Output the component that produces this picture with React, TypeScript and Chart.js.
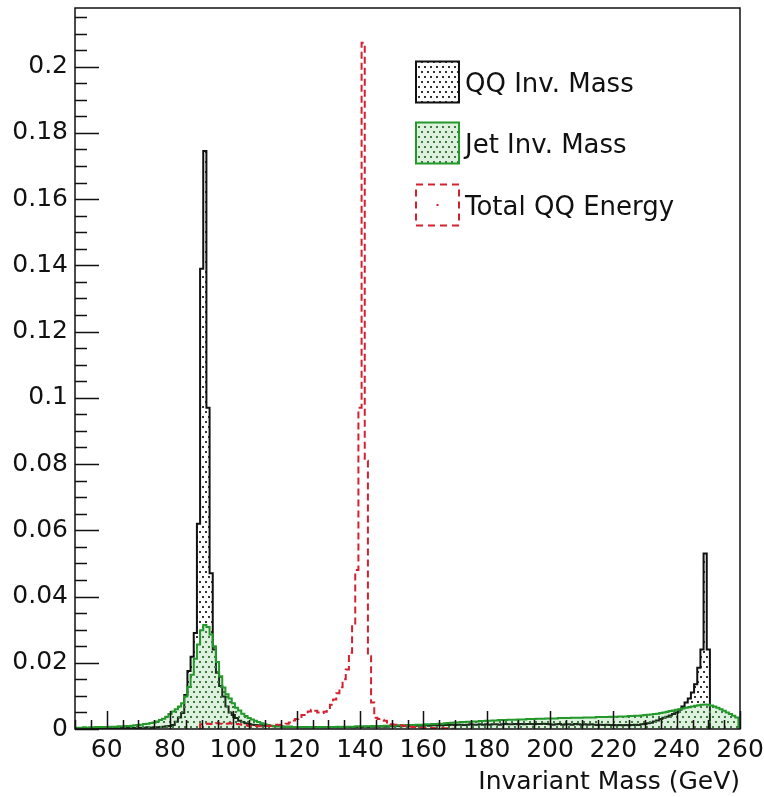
import React, { useEffect, useRef } from 'react';
import { Chart, registerables } from 'chart.js';
Chart.register(...registerables);

// Histogram bins are 1 GeV wide; *Start is the centre of the first bin.
const qqStart = 50;
const qqValues = [
  0.0002, 0.0002, 0.0002, 0.0002, 0.0002, 0.0002, 0.0002, 0.0002, 0.0002, 0.0002,
  0.0002, 0.0002, 0.0003, 0.0002, 0.0003, 0.0003, 0.0003, 0.0003, 0.0004, 0.0003,
  0.0004, 0.0004, 0.0004, 0.0005, 0.0004, 0.0005, 0.0005, 0.0006, 0.0007, 0.0008,
  0.0009, 0.0012, 0.0022, 0.0035, 0.0048, 0.0103, 0.0175, 0.0218, 0.029, 0.062,
  0.139, 0.1745, 0.097, 0.047, 0.024, 0.017, 0.013, 0.0098, 0.0068, 0.005,
  0.0042, 0.0033, 0.0025, 0.0021, 0.0017, 0.0015, 0.0013, 0.0012, 0.0011, 0.0011,
  0.001, 0.0009, 0.0009, 0.0008, 0.0008, 0.0008, 0.0007, 0.0007, 0.0007, 0.0006,
  0.0006, 0.0006, 0.0005, 0.0006, 0.0005, 0.0005, 0.0006, 0.0005, 0.0005, 0.0005,
  0.0005, 0.0005, 0.0006, 0.0005, 0.0005, 0.0006, 0.0006, 0.0006, 0.0005, 0.0006,
  0.0006, 0.0006, 0.0007, 0.0006, 0.0007, 0.0007, 0.0007, 0.0008, 0.0007, 0.0008,
  0.0008, 0.0008, 0.0009, 0.0008, 0.0009, 0.0009, 0.001, 0.0009, 0.001, 0.001,
  0.001, 0.0011, 0.001, 0.0011, 0.0011, 0.0012, 0.0011, 0.0012, 0.0012, 0.0013,
  0.0012, 0.0013, 0.0013, 0.0012, 0.0013, 0.0014, 0.0013, 0.0013, 0.0014, 0.0013,
  0.0014, 0.0013, 0.0014, 0.0014, 0.0013, 0.0014, 0.0015, 0.0014, 0.0014, 0.0015,
  0.0014, 0.0015, 0.0014, 0.0015, 0.0015, 0.0014, 0.0015, 0.0015, 0.0016, 0.0015,
  0.0014, 0.0013, 0.0014, 0.0015, 0.0013, 0.0014, 0.0014, 0.0013, 0.0015, 0.0014,
  0.0013, 0.0014, 0.0013, 0.0014, 0.0013, 0.0012, 0.0013, 0.0012, 0.0013, 0.0012,
  0.0012, 0.0011, 0.0012, 0.0011, 0.0012, 0.0011, 0.0012, 0.0013, 0.0012, 0.0014,
  0.0015, 0.0017, 0.0019, 0.0023, 0.0026, 0.003, 0.0034, 0.0037, 0.0041, 0.0045,
  0.005, 0.0058, 0.0068, 0.008, 0.0092, 0.011, 0.0135, 0.0185, 0.024, 0.053,
  0.024,
];

const jetStart = 50;
const jetValues = [
  0.0004, 0.0004, 0.0004, 0.0005, 0.0004, 0.0005, 0.0005, 0.0006, 0.0006, 0.0006,
  0.0006, 0.0007, 0.0007, 0.0007, 0.0008, 0.0008, 0.0009, 0.0009, 0.001, 0.0011,
  0.0012, 0.0013, 0.0015, 0.0016, 0.0018, 0.002, 0.0023, 0.0027, 0.0031, 0.0037,
  0.0045, 0.0053, 0.006, 0.0068, 0.0078, 0.0098, 0.0127, 0.0164, 0.0212, 0.0255,
  0.0298, 0.0314, 0.0308, 0.0285, 0.025, 0.0202, 0.0159, 0.0125, 0.0105, 0.0092,
  0.0078, 0.0064, 0.0056, 0.0046, 0.0039, 0.0033, 0.0029, 0.0025, 0.0021, 0.0017,
  0.0014, 0.0012, 0.001, 0.0009, 0.0008, 0.0008, 0.0007, 0.0007, 0.0007, 0.0006,
  0.0006, 0.0006, 0.0006, 0.0005, 0.0006, 0.0006, 0.0005, 0.0006, 0.0006, 0.0006,
  0.0006, 0.0006, 0.0006, 0.0007, 0.0006, 0.0007, 0.0007, 0.0007, 0.0007, 0.0008,
  0.0008, 0.0008, 0.0008, 0.0008, 0.0009, 0.0009, 0.0009, 0.0009, 0.001, 0.001,
  0.001, 0.001, 0.0011, 0.0011, 0.0011, 0.0012, 0.0012, 0.0012, 0.0013, 0.0013,
  0.0013, 0.0014, 0.0014, 0.0015, 0.0015, 0.0016, 0.0016, 0.0017, 0.0018, 0.0019,
  0.002, 0.002, 0.0021, 0.0021, 0.0022, 0.0022, 0.0023, 0.0023, 0.0024, 0.0024,
  0.0025, 0.0025, 0.0026, 0.0026, 0.0027, 0.0027, 0.0027, 0.0028, 0.0028, 0.0028,
  0.0029, 0.0029, 0.0029, 0.003, 0.003, 0.003, 0.0031, 0.0031, 0.0031, 0.0032,
  0.0032, 0.0032, 0.0032, 0.0033, 0.0033, 0.0033, 0.0033, 0.0034, 0.0034, 0.0034,
  0.0034, 0.0035, 0.0035, 0.0035, 0.0035, 0.0036, 0.0036, 0.0036, 0.0036, 0.0037,
  0.0037, 0.0037, 0.0038, 0.0038, 0.0038, 0.0039, 0.0039, 0.004, 0.004, 0.0041,
  0.0042, 0.0043, 0.0044, 0.0045, 0.0046, 0.0048, 0.005, 0.0052, 0.0054, 0.0056,
  0.0058, 0.006, 0.0062, 0.0064, 0.0066, 0.0068, 0.007, 0.0072, 0.0073, 0.0074,
  0.0073, 0.0071, 0.0068, 0.0064, 0.006, 0.0055, 0.005, 0.0045, 0.004, 0.0035,
];

const totStart = 90;
const totValues = [
  0.0014, 0.0015, 0.0016, 0.0015, 0.0016, 0.0017, 0.0016, 0.0015, 0.0016, 0.0017,
  0.0016, 0.0015, 0.0014, 0.0013, 0.0012, 0.0009, 0.0008, 0.0009, 0.0008, 0.0008,
  0.0009, 0.0009, 0.001, 0.0012, 0.0013, 0.0013, 0.0014, 0.0016, 0.002, 0.0026,
  0.003, 0.0036, 0.0042, 0.0047, 0.0053, 0.0058, 0.0055, 0.005, 0.0048, 0.0052,
  0.0059, 0.0073, 0.0089, 0.0108, 0.0126, 0.015, 0.018, 0.023, 0.0315, 0.048,
  0.097, 0.2072, 0.081, 0.022, 0.008, 0.0034, 0.003, 0.0028, 0.0025, 0.002,
  0.0014, 0.0013, 0.0012, 0.0011, 0.001, 0.0008, 0.0007, 0.0006, 0.0005, 0.0004,
  0.0004, 0.0003, 0.0003, 0.0003, 0.0002, 0.0002, 0.0002, 0.0002, 0.0001, 0.0001,
];

const seriesLabels = ['QQ Inv. Mass', 'Jet Inv. Mass', 'Total QQ Energy'];
const xTickValues = [60, 80, 100, 120, 140, 160, 180, 200, 220, 240, 260];
const yTickValues = [0, 0.02, 0.04, 0.06, 0.08, 0.1, 0.12, 0.14, 0.16, 0.18, 0.2];
const xMin = 50;
const xMax = 260;
const xMinorStep = 5;
const yMax = 0.2177;
const yMinorStep = 0.005;
const xTitle = 'Invariant Mass (GeV)';

const FONT = 'DejaVu Sans';
const TEXT = '#111111';
const BLACK = '#111111';
const GREEN = '#22992a';
const RED = '#d4202f';

function histPoints(startCentre: number, values: number[]) {
  const lo = startCentre - 0.5;
  const pts: { x: number; y: number }[] = [{ x: lo, y: 0 }];
  values.forEach((v, i) => pts.push({ x: lo + i, y: v }));
  const hi = lo + values.length;
  pts.push({ x: hi, y: values[values.length - 1] });
  pts.push({ x: hi, y: 0 });
  return pts;
}

function makePattern(bg: string | null, dot: string) {
  const c = document.createElement('canvas');
  c.width = 12;
  c.height = 10;
  const g = c.getContext('2d')!;
  if (bg) {
    g.fillStyle = bg;
    g.fillRect(0, 0, 12, 10);
  }
  g.fillStyle = dot;
  [[1, 1], [7, 1], [4, 6], [10, 6]].forEach(([x, y]) => g.fillRect(x, y, 2, 2));
  return g.createPattern(c, 'repeat')!;
}

function zeroPad(s: any) {
  s.paddingTop = 0;
  s.paddingBottom = 0;
  s.paddingLeft = 0;
  s.paddingRight = 0;
}

export default function App() {
  const ref = useRef<HTMLCanvasElement | null>(null);

  useEffect(() => {
    const canvas = ref.current!;
    const blackPat = makePattern(null, '#333333');
    const greenPat = makePattern('rgba(70,170,70,0.18)', '#3f7a42');

    const decor = {
      id: 'rootDecor',
      afterDatasetsDraw(chart: any) {
        const { ctx, chartArea: a, scales } = chart;
        const x = scales.x;
        const y = scales.y;
        ctx.save();
        ctx.strokeStyle = BLACK;
        ctx.lineWidth = 1.5;
        ctx.beginPath();
        for (let v = xMin; v <= xMax + 1e-9; v += xMinorStep) {
          const px = Math.round(x.getPixelForValue(v)) + 0.5;
          const major = xTickValues.includes(v);
          ctx.moveTo(px, a.bottom);
          ctx.lineTo(px, a.bottom - (major ? 18 : 9));
        }
        for (let k = 0; k * yMinorStep <= yMax; k++) {
          const v = k * yMinorStep;
          const py = Math.round(y.getPixelForValue(v)) + 0.5;
          const major = k % 4 === 0;
          ctx.moveTo(a.left, py);
          ctx.lineTo(a.left + (major ? 24 : 12), py);
        }
        ctx.stroke();
        ctx.lineWidth = 1.5;
        ctx.strokeRect(a.left, a.top, a.right - a.left, a.bottom - a.top);
        ctx.restore();
      },
      afterDraw(chart: any) {
        const { ctx } = chart;
        ctx.save();
        const bx = 416;
        const bw = 43;
        const bh = 41;
        const rows = [82, 143, 205];
        ctx.fillStyle = blackPat;
        ctx.fillRect(bx, rows[0] - bh / 2, bw, bh);
        ctx.strokeStyle = BLACK;
        ctx.lineWidth = 2;
        ctx.strokeRect(bx, rows[0] - bh / 2, bw, bh);
        ctx.fillStyle = greenPat;
        ctx.fillRect(bx, rows[1] - bh / 2, bw, bh);
        ctx.strokeStyle = GREEN;
        ctx.strokeRect(bx, rows[1] - bh / 2, bw, bh);
        ctx.strokeStyle = RED;
        ctx.setLineDash([7, 5]);
        ctx.strokeRect(bx, rows[2] - bh / 2, bw, bh);
        ctx.setLineDash([]);
        ctx.fillStyle = RED;
        ctx.fillRect(bx + bw / 2 - 1, rows[2] - 1, 2, 2);
        ctx.fillStyle = TEXT;
        ctx.font = `26px "${FONT}"`;
        ctx.textBaseline = 'middle';
        ctx.textAlign = 'left';
        seriesLabels.forEach((t, i) => ctx.fillText(t, bx + bw + 6, rows[i] + 3));
        ctx.restore();
      },
    };

    const chart = new Chart(canvas, {
      type: 'line',
      data: {
        datasets: [
          {
            label: seriesLabels[0],
            data: histPoints(qqStart, qqValues),
            borderColor: BLACK,
            borderWidth: 2,
            backgroundColor: blackPat,
            fill: 'origin',
            stepped: true,
            pointRadius: 0,
            order: 2,
            clip: 0,
          },
          {
            label: seriesLabels[1],
            data: histPoints(jetStart, jetValues),
            borderColor: GREEN,
            borderWidth: 2,
            backgroundColor: greenPat,
            fill: 'origin',
            stepped: true,
            pointRadius: 0,
            order: 1,
            clip: 0,
          },
          {
            label: seriesLabels[2],
            data: histPoints(totStart, totValues),
            borderColor: RED,
            borderWidth: 2,
            borderDash: [7, 4],
            fill: false,
            stepped: true,
            pointRadius: 0,
            order: 0,
            clip: 0,
          },
        ],
      },
      options: {
        animation: false,
        responsive: false,
        maintainAspectRatio: false,
        layout: { padding: { left: 0, right: 24, top: 8, bottom: 0 } },
        plugins: { legend: { display: false }, tooltip: { enabled: false } },
        scales: {
          x: {
            type: 'linear',
            min: xMin,
            max: xMax,
            grid: { display: false, drawTicks: false },
            border: { display: false },
            afterBuildTicks: (s: any) => {
              s.ticks = xTickValues.map((v) => ({ value: v }));
            },
            afterFit: (s: any) => {
              s.height = 68;
              zeroPad(s);
            },
            ticks: {
              font: { family: FONT, size: 25 },
              color: TEXT,
              padding: 6,
              maxRotation: 0,
              autoSkip: false,
              callback: (v: any) => String(v),
            },
            title: {
              display: true,
              text: xTitle,
              align: 'end',
              color: TEXT,
              font: { family: FONT, size: 25 },
              padding: { top: 0, bottom: 0 },
            },
          },
          y: {
            type: 'linear',
            min: 0,
            max: yMax,
            grid: { display: false, drawTicks: false },
            border: { display: false },
            afterBuildTicks: (s: any) => {
              s.ticks = yTickValues.map((v) => ({ value: v }));
            },
            afterFit: (s: any) => {
              s.width = 75;
              zeroPad(s);
            },
            ticks: {
              font: { family: FONT, size: 25 },
              color: TEXT,
              padding: 7,
              autoSkip: false,
              callback: (v: any) => String(Number(Number(v).toFixed(3))),
            },
          },
        },
      },
      plugins: [decor],
    } as any);
    return () => chart.destroy();
  }, []);

  return (
    <div style={{ position: 'absolute', left: 0, top: 0, width: 764, height: 797, background: '#fff' }}>
      <canvas ref={ref} width={764} height={797} style={{ width: 764, height: 797, display: 'block' }} />
    </div>
  );
}
